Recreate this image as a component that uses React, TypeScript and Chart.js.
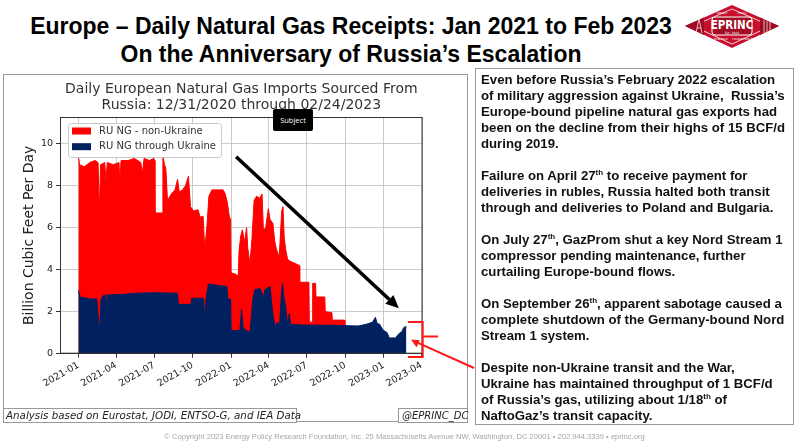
import React, { useEffect, useRef } from 'react';
import { Chart, registerables } from 'chart.js';

Chart.register(...registerables);

// ---------- data ----------
const seriesNames = ['RU NG - non-Ukraine', 'RU NG through Ukraine'];

// top of the red area (all Russian pipeline imports), BCF/d
const totalDates = [
  '2021-01-01', '2021-01-04', '2021-01-15', '2021-01-28', '2021-02-10', '2021-02-17', '2021-02-20', '2021-02-23',
  '2021-03-05', '2021-03-08', '2021-03-11', '2021-03-25', '2021-04-08', '2021-04-10', '2021-04-13', '2021-04-30',
  '2021-05-15', '2021-05-30', '2021-06-03', '2021-06-07', '2021-06-20', '2021-06-30',
  '2021-07-02', '2021-07-03', '2021-07-21', '2021-07-22', '2021-07-26', '2021-07-29', '2021-08-02', '2021-08-11',
  '2021-08-20', '2021-08-26', '2021-08-30', '2021-09-07', '2021-09-14', '2021-09-21', '2021-09-26', '2021-10-03',
  '2021-10-14', '2021-10-19', '2021-10-26', '2021-10-30', '2021-11-04', '2021-11-09', '2021-11-16', '2021-12-13',
  '2021-12-18', '2021-12-23', '2021-12-28', '2021-12-31',
  '2022-01-01', '2022-01-10', '2022-01-18', '2022-01-20', '2022-01-24', '2022-01-28', '2022-02-02', '2022-02-07',
  '2022-02-10', '2022-02-15', '2022-02-20', '2022-02-25', '2022-03-03', '2022-03-10', '2022-03-16', '2022-03-19',
  '2022-03-24', '2022-03-31', '2022-04-04', '2022-04-11', '2022-04-15', '2022-04-19', '2022-04-26', '2022-05-02',
  '2022-05-05', '2022-05-08', '2022-05-12', '2022-05-16', '2022-05-22', '2022-06-03', '2022-06-13', '2022-06-14',
  '2022-07-06', '2022-07-07', '2022-07-14', '2022-07-15', '2022-07-22', '2022-07-23', '2022-08-13', '2022-08-14',
  '2022-08-30', '2022-08-31', '2022-09-29', '2022-09-30',
];
const totalValues = [
  9.4, 9.0, 8.9, 9.1, 9.2, 9.1, 6.7, 9.0,
  9.1, 8.2, 9.1, 9.0, 9.1, 8.1, 9.2, 9.2,
  9.3, 9.1, 8.6, 9.3, 9.2, 9.3,
  9.2, 6.7, 6.7, 9.4, 9.0, 8.8, 7.3, 7.6,
  7.8, 8.3, 7.7, 7.8, 8.0, 8.45, 7.0, 6.8,
  6.85, 6.5, 6.55, 5.0, 6.0, 7.5, 7.8, 7.8,
  7.6, 7.2, 6.5, 6.4,
  3.85, 3.8, 3.7, 4.9, 5.6, 5.9, 5.3, 6.0,
  5.0, 4.3, 5.5, 7.3, 7.5, 7.4, 7.6, 6.0,
  5.9, 6.9, 6.4, 6.2, 5.4, 5.0, 4.6, 6.8,
  7.0, 5.5, 4.9, 4.5, 4.4, 4.3, 4.2, 3.4,
  3.4, 1.5, 1.5, 3.35, 3.35, 2.7, 2.7, 2.0,
  1.95, 1.6, 1.6, 1.3,
];

// Russian gas transiting Ukraine, BCF/d
const ukraineDates = [
  '2021-01-01', '2021-01-05', '2021-01-25', '2021-02-14', '2021-02-18', '2021-02-21', '2021-02-24', '2021-03-01',
  '2021-03-07', '2021-03-09', '2021-03-11', '2021-04-15', '2021-05-20', '2021-07-01', '2021-08-26', '2021-08-28',
  '2021-09-27', '2021-09-29', '2021-10-27', '2021-10-30', '2021-11-02', '2021-11-08', '2021-12-01', '2021-12-22',
  '2021-12-24', '2021-12-31',
  '2022-01-01', '2022-01-22', '2022-01-26', '2022-01-30', '2022-02-07', '2022-02-15', '2022-02-22', '2022-02-27',
  '2022-03-11', '2022-03-20', '2022-03-23', '2022-04-04', '2022-04-08', '2022-04-12', '2022-04-17', '2022-04-22',
  '2022-04-27', '2022-05-01', '2022-05-04', '2022-05-07', '2022-05-11', '2022-05-14', '2022-05-17', '2022-05-20',
  '2022-05-23', '2022-06-15', '2022-09-01', '2022-11-01', '2022-11-20', '2022-12-05', '2022-12-12', '2022-12-16',
  '2022-12-22', '2022-12-30', '2023-01-09', '2023-01-14', '2023-01-29', '2023-02-06', '2023-02-13', '2023-02-18',
  '2023-02-24',
];
const ukraineValues = [
  3.0, 2.7, 2.62, 2.6, 1.6, 1.1, 2.6, 2.75,
  2.8, 2.2, 2.8, 2.82, 2.88, 2.9, 2.88, 2.35,
  2.35, 2.64, 2.64, 1.6, 2.64, 3.32, 3.25, 3.2,
  2.6, 2.6,
  1.1, 1.1, 2.1, 1.2, 1.1, 1.0, 2.6, 3.05,
  3.1, 2.7, 3.05, 3.2, 2.4, 1.7, 1.3, 1.5,
  1.4, 2.8, 3.35, 2.7, 2.3, 1.7, 1.5, 1.9,
  1.4, 1.37, 1.35, 1.32, 1.4, 1.5, 1.73, 1.45,
  1.4, 1.13, 1.0, 0.75, 0.75, 0.95, 1.05, 1.25,
  1.3,
];

const xTickLabels = ['2021-01', '2021-04', '2021-07', '2021-10', '2022-01', '2022-04', '2022-07', '2022-10', '2023-01', '2023-04'];
const yTickValues = [0, 2, 4, 6, 8, 10];
const xLimits = ['2020-11-18', '2023-04-04'];
const yLimits = [0, 11.27];

const chartTitle = ['Daily European Natural Gas Imports Sourced From', 'Russia: 12/31/2020 through 02/24/2023'];
const yAxisTitle = 'Billion Cubic Feet Per Day';

// annotation arrow (data coordinates)
const trendArrowFrom: [string, number] = ['2022-01-13', 9.38];
const trendArrowTo: [string, number] = ['2023-02-06', 2.16];

const RED = '#ff0000';
const NAVY = '#002060';

const BASE = Date.UTC(2021, 0, 1);
const dayOf = (s: string) => {
  const [y, m, d] = s.split('-').map(Number);
  return (Date.UTC(y, m - 1, d || 1) - BASE) / 86400000;
};

function drawArrow(ctx: CanvasRenderingContext2D, x1: number, y1: number, x2: number, y2: number, lw: number, hl: number, hw: number, color: string) {
  const a = Math.atan2(y2 - y1, x2 - x1);
  const bx = x2 - hl * Math.cos(a);
  const by = y2 - hl * Math.sin(a);
  ctx.strokeStyle = color;
  ctx.lineWidth = lw;
  ctx.beginPath();
  ctx.moveTo(x1, y1);
  ctx.lineTo(bx, by);
  ctx.stroke();
  ctx.fillStyle = color;
  ctx.beginPath();
  ctx.moveTo(x2, y2);
  ctx.lineTo(bx + (hw / 2) * Math.sin(a), by - (hw / 2) * Math.cos(a));
  ctx.lineTo(bx - (hw / 2) * Math.sin(a), by + (hw / 2) * Math.cos(a));
  ctx.closePath();
  ctx.fill();
}

const decorPlugin = {
  id: 'decor',
  afterDraw(chart: any) {
    const { ctx, chartArea: a, scales } = chart;
    const x = scales.x;
    const y = scales.y;
    ctx.save();
    // axes frame
    ctx.strokeStyle = '#333';
    ctx.lineWidth = 1;
    ctx.strokeRect(a.left + 0.5, a.top + 0.5, a.width - 1, a.height - 1);
    // trend arrow
    drawArrow(
      ctx,
      x.getPixelForValue(dayOf(trendArrowFrom[0])), y.getPixelForValue(trendArrowFrom[1]),
      x.getPixelForValue(dayOf(trendArrowTo[0])), y.getPixelForValue(trendArrowTo[1]),
      3.6, 13, 12, '#000'
    );
    // legend
    const lx = a.left + 8;
    const ly = a.top + 6;
    const lw = 153;
    const lh = 34;
    ctx.fillStyle = 'rgba(255,255,255,0.9)';
    ctx.strokeStyle = '#c8c8c8';
    ctx.lineWidth = 1;
    ctx.beginPath();
    ctx.roundRect(lx + 0.5, ly + 0.5, lw, lh, 3);
    ctx.fill();
    ctx.stroke();
    ctx.font = '10px "DejaVu Sans"';
    ctx.textBaseline = 'middle';
    ctx.textAlign = 'left';
    chart.data.datasets.forEach((ds: any, i: number) => {
      const cy = ly + 8 + i * 15.7;
      ctx.fillStyle = ds.backgroundColor;
      ctx.fillRect(lx + 4, cy - 3.5, 19, 7);
      ctx.fillStyle = '#333';
      ctx.fillText(ds.label, lx + 31, cy);
    });
    ctx.restore();
  },
};

export default function App() {
  const canvasRef = useRef<HTMLCanvasElement>(null);

  useEffect(() => {
    const canvas = canvasRef.current;
    if (!canvas) return;
    const tickFont = { family: '"DejaVu Sans"', size: 9.5 };
    const chart = new Chart(canvas, {
      type: 'line',
      data: {
        datasets: [
          {
            label: seriesNames[0],
            data: totalDates.map((d, i) => ({ x: dayOf(d), y: totalValues[i] })),
            backgroundColor: RED,
            borderColor: RED,
            borderWidth: 1,
            fill: 'origin',
            pointRadius: 0,
            tension: 0,
            order: 2,
          },
          {
            label: seriesNames[1],
            data: ukraineDates.map((d, i) => ({ x: dayOf(d), y: ukraineValues[i] })),
            backgroundColor: NAVY,
            borderColor: NAVY,
            borderWidth: 1,
            fill: 'origin',
            pointRadius: 0,
            tension: 0,
            order: 1,
          },
        ],
      },
      options: {
        animation: false,
        responsive: false,
        maintainAspectRatio: false,
        layout: { padding: { left: 0, right: 44.3, top: 0, bottom: 0 } },
        plugins: {
          legend: { display: false },
          tooltip: { enabled: false },
          title: {
            display: true,
            text: chartTitle,
            fullSize: false,
            color: '#333',
            font: { family: '"DejaVu Sans"', size: 14, weight: 'normal', lineHeight: 16 / 14 },
            padding: { top: 6, bottom: 4 },
          },
        },
        scales: {
          x: {
            type: 'linear',
            min: dayOf(xLimits[0]),
            max: dayOf(xLimits[1]),
            z: 1,
            afterBuildTicks: (s: any) => {
              s.ticks = xTickLabels.map((l) => ({ value: dayOf(l + '-01') }));
            },
            afterFit: (s: any) => {
              s.height = 68.3;
            },
            ticks: {
              autoSkip: false,
              minRotation: 30,
              maxRotation: 30,
              padding: 2,
              color: '#222',
              font: tickFont,
              callback: (_v: any, i: number) => xTickLabels[i],
            },
            grid: { color: 'rgba(185,185,185,0.75)', tickColor: '#333', tickLength: 4 },
            border: { color: '#333' },
          },
          y: {
            type: 'linear',
            min: yLimits[0],
            max: yLimits[1],
            z: 1,
            afterBuildTicks: (s: any) => {
              s.ticks = yTickValues.map((v) => ({ value: v }));
            },
            afterFit: (s: any) => {
              s.width = 56;
            },
            ticks: { color: '#222', font: tickFont, padding: 3 },
            grid: { color: 'rgba(185,185,185,0.75)', tickColor: '#333', tickLength: 4 },
            border: { color: '#333' },
            title: {
              display: true,
              text: yAxisTitle,
              color: '#222',
              font: { family: '"DejaVu Sans"', size: 14 },
              padding: { top: 17, bottom: 0 },
            },
          },
        },
      },
      plugins: [decorPlugin],
    } as any);
    return () => chart.destroy();
  }, []);

  const sup = { fontSize: '8px', verticalAlign: 'super', lineHeight: 0 } as React.CSSProperties;

  return (
    <div style={{ position: 'absolute', left: 0, top: 0, width: 800, height: 448, background: '#fff', overflow: 'hidden', fontFamily: '"Liberation Sans", Arial, sans-serif' }}>
      {/* main title */}
      <div style={{ position: 'absolute', left: 0, top: 12, width: 702, textAlign: 'center', fontWeight: 'bold', fontSize: 23, lineHeight: '28.4px', color: '#000', whiteSpace: 'nowrap' }}>
        Europe – Daily Natural Gas Receipts: Jan 2021 to Feb 2023
        <br />
        On the Anniversary of Russia’s Escalation
      </div>

      {/* logo */}
      <svg style={{ position: 'absolute', left: 684, top: 4 }} width={96} height={46} viewBox="0 0 96 46">
        <polygon points="1,22 48,1 95,22 48,44" fill="#c8102e" />
        <polygon points="9,22 48,5 87,22 48,40" fill="none" stroke="#fff" strokeWidth={0.8} />
        <polygon points="1,22 20,13.5 20,31" fill="#9e0b22" />
        <polygon points="95,22 76,13.5 76,31" fill="#9e0b22" />
        <g stroke="#fff" strokeWidth={0.7}>
          <line x1={12} y1={29} x2={15} y2={15} />
          <line x1={18} y1={29} x2={15} y2={15} />
          <line x1={13} y1={24} x2={17} y2={24} />
          <line x1={80} y1={16} x2={80} y2={29} />
          <line x1={83} y1={17} x2={83} y2={28} />
          <line x1={86} y1={18} x2={86} y2={27} />
        </g>
        <rect x={28} y={13} width={40} height={18} rx={3} fill="#a30d24" stroke="#fff" strokeWidth={1} />
        <text x={48} y={25} textAnchor="middle" fill="#fff" fontFamily='"DejaVu Sans Condensed", "DejaVu Sans"' fontWeight="bold" fontSize={11.5} style={{ fontStretch: 'condensed' }}>EPRINC</text>
        <text x={48} y={29.5} textAnchor="middle" fill="#fff" fontFamily='"DejaVu Sans"' fontSize={3}>Est. 1944</text>
        <text x={38} y={10} textAnchor="middle" fill="#fff" fontFamily='"DejaVu Sans"' fontSize={2.6}>ENERGY</text>
        <text x={58} y={10} textAnchor="middle" fill="#fff" fontFamily='"DejaVu Sans"' fontSize={2.6}>POLICY</text>
        <text x={37} y={36} textAnchor="middle" fill="#fff" fontFamily='"DejaVu Sans"' fontSize={2.6}>RESEARCH</text>
        <text x={60} y={36} textAnchor="middle" fill="#fff" fontFamily='"DejaVu Sans"' fontSize={2.6}>FOUNDATION INC.</text>
      </svg>

      {/* chart panel */}
      <div style={{ position: 'absolute', left: 3, top: 74, width: 465, height: 348, border: '1.5px solid #999', boxSizing: 'border-box' }} />
      <canvas ref={canvasRef} width={463} height={347} style={{ position: 'absolute', left: 4, top: 75, width: 463, height: 347 }} />

      {/* Subject tag */}
      <div style={{ position: 'absolute', left: 273, top: 109, width: 40, height: 22, background: '#000', borderRadius: 2, color: '#fff', fontFamily: '"Open Sans", "Noto Sans", sans-serif', fontSize: 7.5, lineHeight: '22px', textAlign: 'center' }}>
        Subject
      </div>

      {/* source boxes */}
      <div style={{ position: 'absolute', left: 3, top: 408, width: 294, height: 15, border: '1.5px solid #999', boxSizing: 'border-box', background: '#fff', fontFamily: '"DejaVu Sans"', fontStyle: 'italic', fontSize: 10.3, lineHeight: '13px', color: '#222', paddingLeft: 2, whiteSpace: 'nowrap' }}>
        Analysis based on Eurostat, JODI, ENTSO-G, and IEA Data
      </div>
      <div style={{ position: 'absolute', left: 398, top: 408, width: 70, height: 15, border: '1.5px solid #999', boxSizing: 'border-box', background: '#fff', fontFamily: '"DejaVu Sans"', fontStyle: 'italic', fontSize: 10, lineHeight: '13px', color: '#222', paddingLeft: 3, whiteSpace: 'nowrap' }}>
        @EPRINC_DC
      </div>

      {/* red bracket and arrow */}
      <svg style={{ position: 'absolute', left: 0, top: 0, pointerEvents: 'none' }} width={800} height={448}>
        <path d="M408,322 H422.7 V357 H408 M422.7,336.5 H438" fill="none" stroke="#ff1a1a" strokeWidth={2} />
        <line x1={474} y1={368} x2={418} y2={342.8} stroke="#ff1a1a" strokeWidth={2} />
        <polygon points="411,339.5 419.8,340.2 416.5,347.5" fill="#ff1a1a" />
      </svg>

      {/* commentary */}
      <div style={{ position: 'absolute', left: 475, top: 68, width: 319, height: 357, border: '1.5px solid #999', boxSizing: 'border-box', padding: '3px 0 0 5px', fontWeight: 'bold', fontSize: 13.2, lineHeight: '16px', color: '#111', whiteSpace: 'pre' }}>
        {'Even before Russia’s February 2022 escalation\nof military aggression against Ukraine,  Russia’s\nEurope-bound pipeline natural gas exports had\nbeen on the decline from their highs of 15 BCF/d\nduring 2019.\n\nFailure on April 27'}
        <span style={sup}>th</span>
        {' to receive payment for\ndeliveries in rubles, Russia halted both transit\nthrough and deliveries to Poland and Bulgaria.\n\nOn July 27'}
        <span style={sup}>th</span>
        {', GazProm shut a key Nord Stream 1\ncompressor pending maintenance, further\ncurtailing Europe-bound flows.\n\nOn September 26'}
        <span style={sup}>th</span>
        {', apparent sabotage caused a\ncomplete shutdown of the Germany-bound Nord\nStream 1 system.\n\nDespite non-Ukraine transit and the War,\nUkraine has maintained throughput of 1 BCF/d\nof Russia’s gas, utilizing about 1/18'}
        <span style={sup}>th</span>
        {' of\nNaftoGaz’s transit capacity.'}
      </div>

      {/* footer */}
      <div style={{ position: 'absolute', left: 0, top: 432, width: 809, textAlign: 'center', fontSize: 7.6, color: '#a6a6a6', whiteSpace: 'nowrap' }}>
        © Copyright 2023 Energy Policy Research Foundation, Inc. 25 Massachusetts Avenue NW, Washington, DC 20001 • 202.944.3339 • eprinc.org
      </div>
    </div>
  );
}
